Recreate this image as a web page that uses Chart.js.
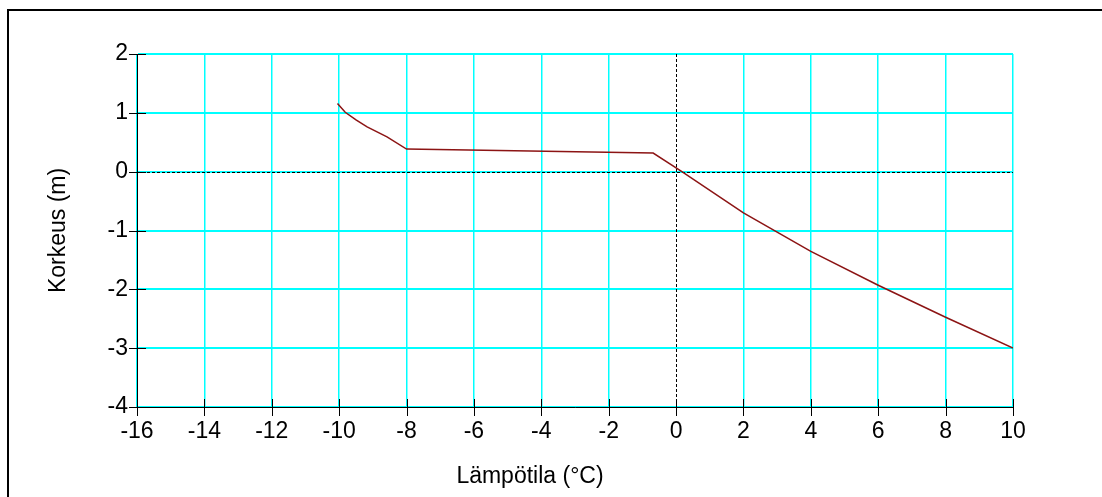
<!DOCTYPE html>
<html>
<head>
<meta charset="utf-8">
<title>Korkeus ja lämpötila</title>
<script src="https://cdn.jsdelivr.net/npm/chart.js@4/dist/chart.umd.min.js"></script>
<style>
  html, body { margin: 0; padding: 0; background: #ffffff; }
  #wrap { width: 1102px; height: 497px; position: relative; }
  canvas { display: block; }
</style>
</head>
<body>
<div id="wrap"><canvas id="c" width="1102" height="497"></canvas></div>
<script>
// Temperature profile: temperature (°C) against height (m)
const temperature = [-10.05, -9.82, -9.5, -9.17, -8.58, -8.0, -0.68, 0.15, 2, 4, 6, 8, 10];
const height      = [1.16, 1.01, 0.88, 0.76, 0.59, 0.385, 0.317, 0.01, -0.70, -1.355, -1.93, -2.475, -3.0];

const xRange = { min: -16, max: 10, step: 2 };
const yRange = { min: -4, max: 2, step: 1 };
const xTitle = 'Lämpötila (°C)';
const yTitle = 'Korkeus (m)';

const FONT = "'Liberation Sans', Arial, sans-serif";
const FONT_SIZE = 23;
const GRID = '#00ffff';
const LINE = '#8c1414';

const points = temperature.map((t, i) => ({ x: t, y: height[i] }));

// Outer frame, crossing tick marks, dashed zero lines and the x axis caption
const decorations = {
  id: 'decorations',
  beforeDraw(chart) {
    const ctx = chart.ctx;
    ctx.save();
    ctx.fillStyle = '#ffffff';
    ctx.fillRect(0, 0, chart.width, chart.height);
    ctx.strokeStyle = '#000000';
    ctx.lineWidth = 2;
    ctx.strokeRect(8, 10, 1300, 700);
    ctx.restore();
  },
  beforeDatasetsDraw(chart) {
    const ctx = chart.ctx;
    const xs = chart.scales.x, ys = chart.scales.y;
    const area = chart.chartArea;
    ctx.save();
    ctx.strokeStyle = '#000000';
    ctx.lineWidth = 1;
    ctx.setLineDash([3, 2]);
    const x0 = Math.round(xs.getPixelForValue(0)) + 0.5;
    const y0 = Math.round(ys.getPixelForValue(0)) + 0.5;
    ctx.beginPath();
    ctx.moveTo(x0, area.top);
    ctx.lineTo(x0, area.bottom);
    ctx.moveTo(area.left, y0);
    ctx.lineTo(area.right, y0);
    ctx.stroke();
    ctx.restore();
  },
  afterDraw(chart) {
    const ctx = chart.ctx;
    const xs = chart.scales.x, ys = chart.scales.y;
    const area = chart.chartArea;
    ctx.save();
    ctx.strokeStyle = '#000000';
    ctx.lineWidth = 1;
    ctx.beginPath();
    xs.ticks.forEach(t => {
      const px = Math.round(xs.getPixelForValue(t.value)) + 0.5;
      ctx.moveTo(px, area.bottom - 8);
      ctx.lineTo(px, area.bottom + 9);
    });
    ys.ticks.forEach(t => {
      const py = Math.round(ys.getPixelForValue(t.value)) + 0.5;
      ctx.moveTo(area.left - 8, py);
      ctx.lineTo(area.left + 9, py);
    });
    ctx.stroke();

    // x axis caption, set a little left of the axis centre
    ctx.fillStyle = '#000000';
    ctx.font = FONT_SIZE + 'px ' + FONT;
    ctx.textAlign = 'center';
    ctx.textBaseline = 'middle';
    ctx.fillText(xTitle, (xs.left + xs.right) / 2 - 45, xs.bottom - 20);
    ctx.restore();
  }
};

new Chart(document.getElementById('c'), {
  type: 'scatter',
  data: {
    datasets: [{
      data: points,
      showLine: true,
      borderColor: LINE,
      borderWidth: 1.5,
      pointRadius: 0,
      pointHoverRadius: 0,
      tension: 0
    }]
  },
  options: {
    responsive: false,
    animation: false,
    devicePixelRatio: 1,
    layout: { padding: { left: 8, top: 54, right: 89, bottom: 0 } },
    plugins: { legend: { display: false }, tooltip: { enabled: false } },
    scales: {
      x: {
        type: 'linear',
        min: xRange.min, max: xRange.max,
        afterFit(scale) { scale.height = 497 - 407; },
        ticks: { stepSize: xRange.step, color: '#000000', padding: 11, font: { family: FONT, size: FONT_SIZE } },
        grid: {
          drawTicks: false,
          lineWidth: 1.5,
          color: ctx => (ctx.tick && ctx.tick.value === 0) ? 'rgba(0,0,0,0)' : GRID
        },
        border: { color: '#000000', width: 1 },
        title: { display: false }
      },
      y: {
        type: 'linear',
        min: yRange.min, max: yRange.max,
        afterFit(scale) { scale.width = 137 - 8; },
        ticks: { stepSize: yRange.step, color: '#000000', padding: 9, font: { family: FONT, size: FONT_SIZE } },
        grid: { drawTicks: false, lineWidth: 2, color: GRID },
        border: { color: '#000000', width: 1 },
        title: { display: true, text: yTitle, color: '#000000', padding: { top: 37, bottom: 0 }, font: { family: FONT, size: FONT_SIZE } }
      }
    }
  },
  plugins: [decorations]
});
</script>
</body>
</html>
